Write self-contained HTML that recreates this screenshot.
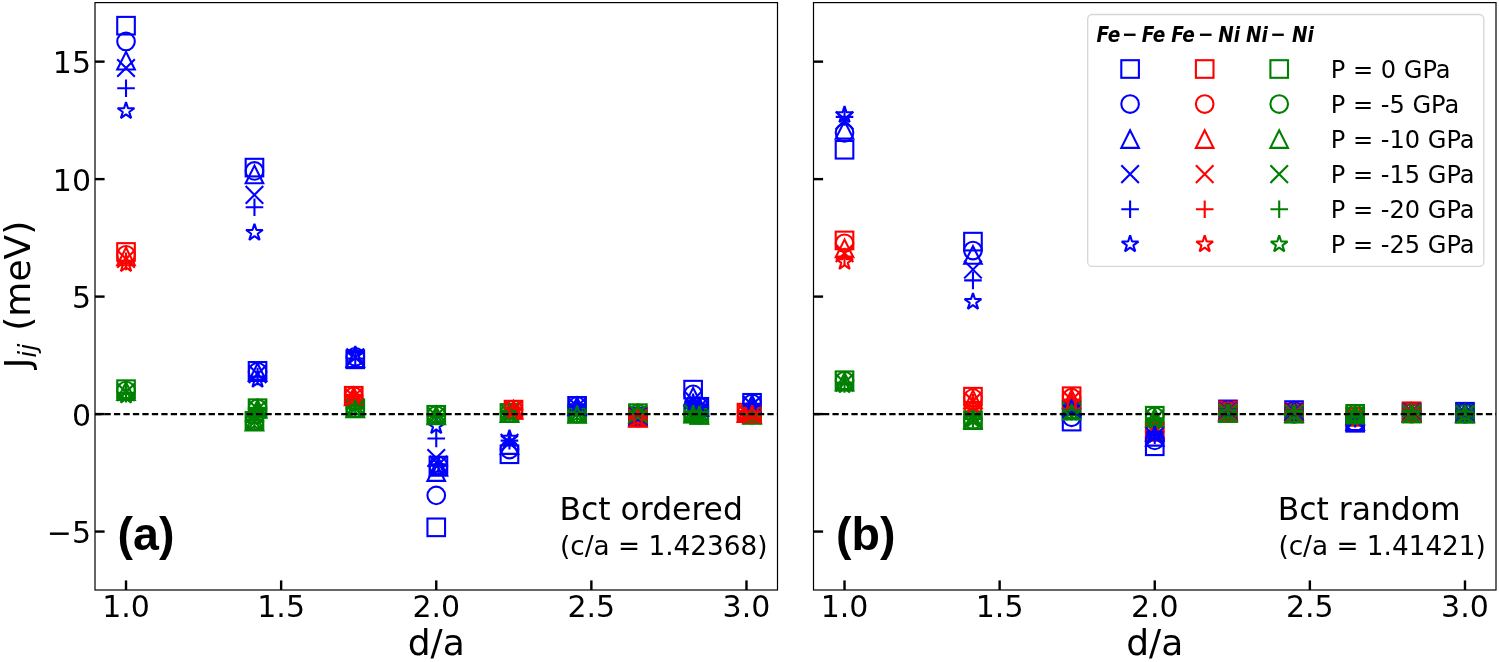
<!DOCTYPE html><html><head><meta charset="utf-8"><title>Jij vs d/a</title><style>html,body{margin:0;padding:0;background:#fff;}svg{display:block;}text{font-family:"DejaVu Sans","Liberation Sans",sans-serif;}</style></head><body>
<svg width="1499" height="662" viewBox="0 0 1499 662">
<rect width="1499" height="662" fill="#fff"/>
<rect x="117.22" y="16.89" width="17.6" height="17.6" fill="none" stroke="#0000ff" stroke-width="2.1" stroke-linejoin="miter"/>
<rect x="117.22" y="243.16" width="17.6" height="17.6" fill="none" stroke="#ff0000" stroke-width="2.1" stroke-linejoin="miter"/>
<rect x="117.22" y="380.37" width="17.6" height="17.6" fill="none" stroke="#008000" stroke-width="2.1" stroke-linejoin="miter"/>
<rect x="245.66" y="158.81" width="17.6" height="17.6" fill="none" stroke="#0000ff" stroke-width="2.1" stroke-linejoin="miter"/>
<rect x="248.76" y="362.05" width="17.6" height="17.6" fill="none" stroke="#0000ff" stroke-width="2.1" stroke-linejoin="miter"/>
<rect x="248.76" y="399.41" width="17.6" height="17.6" fill="none" stroke="#008000" stroke-width="2.1" stroke-linejoin="miter"/>
<rect x="245.66" y="412.09" width="17.6" height="17.6" fill="none" stroke="#008000" stroke-width="2.1" stroke-linejoin="miter"/>
<rect x="346.48" y="350.53" width="17.6" height="17.6" fill="none" stroke="#0000ff" stroke-width="2.1" stroke-linejoin="miter"/>
<rect x="344.93" y="386.95" width="17.6" height="17.6" fill="none" stroke="#ff0000" stroke-width="2.1" stroke-linejoin="miter"/>
<rect x="346.48" y="399.41" width="17.6" height="17.6" fill="none" stroke="#008000" stroke-width="2.1" stroke-linejoin="miter"/>
<rect x="427.45" y="518.53" width="17.6" height="17.6" fill="none" stroke="#0000ff" stroke-width="2.1" stroke-linejoin="miter"/>
<rect x="429.62" y="456.74" width="17.6" height="17.6" fill="none" stroke="#0000ff" stroke-width="2.1" stroke-linejoin="miter"/>
<rect x="500.66" y="445.46" width="17.6" height="17.6" fill="none" stroke="#0000ff" stroke-width="2.1" stroke-linejoin="miter"/>
<rect x="500.66" y="404.11" width="17.6" height="17.6" fill="none" stroke="#008000" stroke-width="2.1" stroke-linejoin="miter"/>
<rect x="504.7" y="400.82" width="17.6" height="17.6" fill="none" stroke="#ff0000" stroke-width="2.1" stroke-linejoin="miter"/>
<rect x="568.29" y="397.06" width="17.6" height="17.6" fill="none" stroke="#0000ff" stroke-width="2.1" stroke-linejoin="miter"/>
<rect x="568.29" y="404.58" width="17.6" height="17.6" fill="none" stroke="#008000" stroke-width="2.1" stroke-linejoin="miter"/>
<rect x="629.1" y="407.63" width="17.6" height="17.6" fill="none" stroke="#0000ff" stroke-width="2.1" stroke-linejoin="miter"/>
<rect x="629.1" y="404.34" width="17.6" height="17.6" fill="none" stroke="#008000" stroke-width="2.1" stroke-linejoin="miter"/>
<rect x="629.1" y="408.57" width="17.6" height="17.6" fill="none" stroke="#ff0000" stroke-width="2.1" stroke-linejoin="miter"/>
<rect x="684.32" y="380.84" width="17.6" height="17.6" fill="none" stroke="#0000ff" stroke-width="2.1" stroke-linejoin="miter"/>
<rect x="690.52" y="398" width="17.6" height="17.6" fill="none" stroke="#0000ff" stroke-width="2.1" stroke-linejoin="miter"/>
<rect x="684.32" y="404.58" width="17.6" height="17.6" fill="none" stroke="#008000" stroke-width="2.1" stroke-linejoin="miter"/>
<rect x="690.52" y="405.98" width="17.6" height="17.6" fill="none" stroke="#008000" stroke-width="2.1" stroke-linejoin="miter"/>
<rect x="737.68" y="403.87" width="17.6" height="17.6" fill="none" stroke="#ff0000" stroke-width="2.1" stroke-linejoin="miter"/>
<rect x="743.26" y="394" width="17.6" height="17.6" fill="none" stroke="#0000ff" stroke-width="2.1" stroke-linejoin="miter"/>
<rect x="743.26" y="405.51" width="17.6" height="17.6" fill="none" stroke="#008000" stroke-width="2.1" stroke-linejoin="miter"/>
<rect x="743.26" y="405.28" width="17.6" height="17.6" fill="none" stroke="#ff0000" stroke-width="2.1" stroke-linejoin="miter"/>
<circle cx="126.02" cy="41.43" r="8.8" fill="none" stroke="#0000ff" stroke-width="2.1"/>
<circle cx="126.02" cy="254.78" r="8.8" fill="none" stroke="#ff0000" stroke-width="2.1"/>
<circle cx="126.02" cy="390.58" r="8.8" fill="none" stroke="#008000" stroke-width="2.1"/>
<circle cx="254.46" cy="170.9" r="8.8" fill="none" stroke="#0000ff" stroke-width="2.1"/>
<circle cx="257.56" cy="371.79" r="8.8" fill="none" stroke="#0000ff" stroke-width="2.1"/>
<circle cx="257.56" cy="408.44" r="8.8" fill="none" stroke="#008000" stroke-width="2.1"/>
<circle cx="254.46" cy="421.13" r="8.8" fill="none" stroke="#008000" stroke-width="2.1"/>
<circle cx="355.28" cy="356.75" r="8.8" fill="none" stroke="#0000ff" stroke-width="2.1"/>
<circle cx="353.73" cy="396.22" r="8.8" fill="none" stroke="#ff0000" stroke-width="2.1"/>
<circle cx="355.28" cy="408.21" r="8.8" fill="none" stroke="#008000" stroke-width="2.1"/>
<circle cx="436.25" cy="495.38" r="8.8" fill="none" stroke="#0000ff" stroke-width="2.1"/>
<circle cx="438.42" cy="465.77" r="8.8" fill="none" stroke="#0000ff" stroke-width="2.1"/>
<circle cx="509.46" cy="449.56" r="8.8" fill="none" stroke="#0000ff" stroke-width="2.1"/>
<circle cx="509.46" cy="412.91" r="8.8" fill="none" stroke="#008000" stroke-width="2.1"/>
<circle cx="513.5" cy="409.62" r="8.8" fill="none" stroke="#ff0000" stroke-width="2.1"/>
<circle cx="577.09" cy="406.09" r="8.8" fill="none" stroke="#0000ff" stroke-width="2.1"/>
<circle cx="577.09" cy="413.61" r="8.8" fill="none" stroke="#008000" stroke-width="2.1"/>
<circle cx="637.9" cy="416.43" r="8.8" fill="none" stroke="#0000ff" stroke-width="2.1"/>
<circle cx="637.9" cy="413.38" r="8.8" fill="none" stroke="#008000" stroke-width="2.1"/>
<circle cx="637.9" cy="417.6" r="8.8" fill="none" stroke="#ff0000" stroke-width="2.1"/>
<circle cx="693.12" cy="394.34" r="8.8" fill="none" stroke="#0000ff" stroke-width="2.1"/>
<circle cx="699.32" cy="406.8" r="8.8" fill="none" stroke="#0000ff" stroke-width="2.1"/>
<circle cx="693.12" cy="413.38" r="8.8" fill="none" stroke="#008000" stroke-width="2.1"/>
<circle cx="699.32" cy="414.78" r="8.8" fill="none" stroke="#008000" stroke-width="2.1"/>
<circle cx="746.48" cy="412.91" r="8.8" fill="none" stroke="#ff0000" stroke-width="2.1"/>
<circle cx="752.06" cy="403.51" r="8.8" fill="none" stroke="#0000ff" stroke-width="2.1"/>
<circle cx="752.06" cy="414.55" r="8.8" fill="none" stroke="#008000" stroke-width="2.1"/>
<circle cx="752.06" cy="414.08" r="8.8" fill="none" stroke="#ff0000" stroke-width="2.1"/>
<polygon points="126.02,51.9 117.22,69.5 134.82,69.5" fill="none" stroke="#0000ff" stroke-width="2.1" stroke-linejoin="miter" stroke-miterlimit="10"/>
<polygon points="126.02,247.62 117.22,265.22 134.82,265.22" fill="none" stroke="#ff0000" stroke-width="2.1" stroke-linejoin="miter" stroke-miterlimit="10"/>
<polygon points="126.02,382.25 117.22,399.85 134.82,399.85" fill="none" stroke="#008000" stroke-width="2.1" stroke-linejoin="miter" stroke-miterlimit="10"/>
<polygon points="254.46,165.62 245.66,183.22 263.26,183.22" fill="none" stroke="#0000ff" stroke-width="2.1" stroke-linejoin="miter" stroke-miterlimit="10"/>
<polygon points="257.56,363.46 248.76,381.06 266.36,381.06" fill="none" stroke="#0000ff" stroke-width="2.1" stroke-linejoin="miter" stroke-miterlimit="10"/>
<polygon points="257.56,400.11 248.76,417.71 266.36,417.71" fill="none" stroke="#008000" stroke-width="2.1" stroke-linejoin="miter" stroke-miterlimit="10"/>
<polygon points="254.46,412.8 245.66,430.4 263.26,430.4" fill="none" stroke="#008000" stroke-width="2.1" stroke-linejoin="miter" stroke-miterlimit="10"/>
<polygon points="355.28,349.36 346.48,366.96 364.08,366.96" fill="none" stroke="#0000ff" stroke-width="2.1" stroke-linejoin="miter" stroke-miterlimit="10"/>
<polygon points="353.73,387.66 344.93,405.26 362.53,405.26" fill="none" stroke="#ff0000" stroke-width="2.1" stroke-linejoin="miter" stroke-miterlimit="10"/>
<polygon points="355.28,399.64 346.48,417.24 364.08,417.24" fill="none" stroke="#008000" stroke-width="2.1" stroke-linejoin="miter" stroke-miterlimit="10"/>
<polygon points="436.25,463.32 427.45,480.92 445.05,480.92" fill="none" stroke="#0000ff" stroke-width="2.1" stroke-linejoin="miter" stroke-miterlimit="10"/>
<polygon points="438.42,458.15 429.62,475.75 447.22,475.75" fill="none" stroke="#0000ff" stroke-width="2.1" stroke-linejoin="miter" stroke-miterlimit="10"/>
<polygon points="509.46,436.29 500.66,453.89 518.26,453.89" fill="none" stroke="#0000ff" stroke-width="2.1" stroke-linejoin="miter" stroke-miterlimit="10"/>
<polygon points="509.46,404.34 500.66,421.94 518.26,421.94" fill="none" stroke="#008000" stroke-width="2.1" stroke-linejoin="miter" stroke-miterlimit="10"/>
<polygon points="513.5,401.05 504.7,418.65 522.3,418.65" fill="none" stroke="#ff0000" stroke-width="2.1" stroke-linejoin="miter" stroke-miterlimit="10"/>
<polygon points="577.09,397.53 568.29,415.13 585.89,415.13" fill="none" stroke="#0000ff" stroke-width="2.1" stroke-linejoin="miter" stroke-miterlimit="10"/>
<polygon points="577.09,405.05 568.29,422.65 585.89,422.65" fill="none" stroke="#008000" stroke-width="2.1" stroke-linejoin="miter" stroke-miterlimit="10"/>
<polygon points="637.9,407.63 629.1,425.23 646.7,425.23" fill="none" stroke="#0000ff" stroke-width="2.1" stroke-linejoin="miter" stroke-miterlimit="10"/>
<polygon points="637.9,404.81 629.1,422.41 646.7,422.41" fill="none" stroke="#008000" stroke-width="2.1" stroke-linejoin="miter" stroke-miterlimit="10"/>
<polygon points="637.9,409.04 629.1,426.64 646.7,426.64" fill="none" stroke="#ff0000" stroke-width="2.1" stroke-linejoin="miter" stroke-miterlimit="10"/>
<polygon points="693.12,387.89 684.32,405.49 701.92,405.49" fill="none" stroke="#0000ff" stroke-width="2.1" stroke-linejoin="miter" stroke-miterlimit="10"/>
<polygon points="699.32,398 690.52,415.6 708.12,415.6" fill="none" stroke="#0000ff" stroke-width="2.1" stroke-linejoin="miter" stroke-miterlimit="10"/>
<polygon points="693.12,404.81 684.32,422.41 701.92,422.41" fill="none" stroke="#008000" stroke-width="2.1" stroke-linejoin="miter" stroke-miterlimit="10"/>
<polygon points="699.32,405.98 690.52,423.58 708.12,423.58" fill="none" stroke="#008000" stroke-width="2.1" stroke-linejoin="miter" stroke-miterlimit="10"/>
<polygon points="746.48,404.34 737.68,421.94 755.28,421.94" fill="none" stroke="#ff0000" stroke-width="2.1" stroke-linejoin="miter" stroke-miterlimit="10"/>
<polygon points="752.06,395.41 743.26,413.01 760.86,413.01" fill="none" stroke="#0000ff" stroke-width="2.1" stroke-linejoin="miter" stroke-miterlimit="10"/>
<polygon points="752.06,405.98 743.26,423.58 760.86,423.58" fill="none" stroke="#008000" stroke-width="2.1" stroke-linejoin="miter" stroke-miterlimit="10"/>
<polygon points="752.06,405.28 743.26,422.88 760.86,422.88" fill="none" stroke="#ff0000" stroke-width="2.1" stroke-linejoin="miter" stroke-miterlimit="10"/>
<path d="M117.22 59.18L134.82 76.78M117.22 76.78L134.82 59.18" fill="none" stroke="#0000ff" stroke-width="2.1"/>
<path d="M117.22 250.21L134.82 267.81M117.22 267.81L134.82 250.21" fill="none" stroke="#ff0000" stroke-width="2.1"/>
<path d="M117.22 383.43L134.82 401.03M117.22 401.03L134.82 383.43" fill="none" stroke="#008000" stroke-width="2.1"/>
<path d="M245.66 186.06L263.26 203.66M245.66 203.66L263.26 186.06" fill="none" stroke="#0000ff" stroke-width="2.1"/>
<path d="M248.76 365.34L266.36 382.94M248.76 382.94L266.36 365.34" fill="none" stroke="#0000ff" stroke-width="2.1"/>
<path d="M248.76 400.58L266.36 418.18M248.76 418.18L266.36 400.58" fill="none" stroke="#008000" stroke-width="2.1"/>
<path d="M245.66 413.03L263.26 430.63M245.66 430.63L263.26 413.03" fill="none" stroke="#008000" stroke-width="2.1"/>
<path d="M346.48 348.42L364.08 366.02M346.48 366.02L364.08 348.42" fill="none" stroke="#0000ff" stroke-width="2.1"/>
<path d="M344.93 387.89L362.53 405.49M344.93 405.49L362.53 387.89" fill="none" stroke="#ff0000" stroke-width="2.1"/>
<path d="M346.48 399.64L364.08 417.24M346.48 417.24L364.08 399.64" fill="none" stroke="#008000" stroke-width="2.1"/>
<path d="M427.45 449.22L445.05 466.82M427.45 466.82L445.05 449.22" fill="none" stroke="#0000ff" stroke-width="2.1"/>
<path d="M429.62 455.8L447.22 473.4M429.62 473.4L447.22 455.8" fill="none" stroke="#0000ff" stroke-width="2.1"/>
<path d="M500.66 433.95L518.26 451.55M500.66 451.55L518.26 433.95" fill="none" stroke="#0000ff" stroke-width="2.1"/>
<path d="M500.66 404.34L518.26 421.94M500.66 421.94L518.26 404.34" fill="none" stroke="#008000" stroke-width="2.1"/>
<path d="M504.7 401.05L522.3 418.65M504.7 418.65L522.3 401.05" fill="none" stroke="#ff0000" stroke-width="2.1"/>
<path d="M568.29 397.76L585.89 415.36M568.29 415.36L585.89 397.76" fill="none" stroke="#0000ff" stroke-width="2.1"/>
<path d="M568.29 405.28L585.89 422.88M568.29 422.88L585.89 405.28" fill="none" stroke="#008000" stroke-width="2.1"/>
<path d="M629.1 407.63L646.7 425.23M629.1 425.23L646.7 407.63" fill="none" stroke="#0000ff" stroke-width="2.1"/>
<path d="M629.1 405.05L646.7 422.65M629.1 422.65L646.7 405.05" fill="none" stroke="#008000" stroke-width="2.1"/>
<path d="M629.1 409.27L646.7 426.87M629.1 426.87L646.7 409.27" fill="none" stroke="#ff0000" stroke-width="2.1"/>
<path d="M684.32 391.18L701.92 408.78M684.32 408.78L701.92 391.18" fill="none" stroke="#0000ff" stroke-width="2.1"/>
<path d="M690.52 398.23L708.12 415.83M690.52 415.83L708.12 398.23" fill="none" stroke="#0000ff" stroke-width="2.1"/>
<path d="M684.32 404.81L701.92 422.41M684.32 422.41L701.92 404.81" fill="none" stroke="#008000" stroke-width="2.1"/>
<path d="M690.52 405.98L708.12 423.58M690.52 423.58L708.12 405.98" fill="none" stroke="#008000" stroke-width="2.1"/>
<path d="M737.68 404.58L755.28 422.18M737.68 422.18L755.28 404.58" fill="none" stroke="#ff0000" stroke-width="2.1"/>
<path d="M743.26 396.35L760.86 413.95M743.26 413.95L760.86 396.35" fill="none" stroke="#0000ff" stroke-width="2.1"/>
<path d="M743.26 406.22L760.86 423.82M743.26 423.82L760.86 406.22" fill="none" stroke="#008000" stroke-width="2.1"/>
<path d="M743.26 405.28L760.86 422.88M743.26 422.88L760.86 405.28" fill="none" stroke="#ff0000" stroke-width="2.1"/>
<path d="M117.22 88.19L134.82 88.19M126.02 79.39L126.02 96.99" fill="none" stroke="#0000ff" stroke-width="2.1"/>
<path d="M117.22 261.36L134.82 261.36M126.02 252.56L126.02 270.16" fill="none" stroke="#ff0000" stroke-width="2.1"/>
<path d="M117.22 393.64L134.82 393.64M126.02 384.84L126.02 402.44" fill="none" stroke="#008000" stroke-width="2.1"/>
<path d="M245.66 207.32L263.26 207.32M254.46 198.52L254.46 216.12" fill="none" stroke="#0000ff" stroke-width="2.1"/>
<path d="M248.76 376.49L266.36 376.49M257.56 367.69L257.56 385.29" fill="none" stroke="#0000ff" stroke-width="2.1"/>
<path d="M248.76 409.85L266.36 409.85M257.56 401.05L257.56 418.65" fill="none" stroke="#008000" stroke-width="2.1"/>
<path d="M245.66 422.3L263.26 422.3M254.46 413.5L254.46 431.1" fill="none" stroke="#008000" stroke-width="2.1"/>
<path d="M346.48 358.63L364.08 358.63M355.28 349.83L355.28 367.43" fill="none" stroke="#0000ff" stroke-width="2.1"/>
<path d="M344.93 397.16L362.53 397.16M353.73 388.36L353.73 405.96" fill="none" stroke="#ff0000" stroke-width="2.1"/>
<path d="M346.48 408.68L364.08 408.68M355.28 399.88L355.28 417.48" fill="none" stroke="#008000" stroke-width="2.1"/>
<path d="M427.45 438.52L445.05 438.52M436.25 429.72L436.25 447.32" fill="none" stroke="#0000ff" stroke-width="2.1"/>
<path d="M429.62 465.77L447.22 465.77M438.42 456.97L438.42 474.57" fill="none" stroke="#0000ff" stroke-width="2.1"/>
<path d="M500.66 440.63L518.26 440.63M509.46 431.83L509.46 449.43" fill="none" stroke="#0000ff" stroke-width="2.1"/>
<path d="M500.66 413.38L518.26 413.38M509.46 404.58L509.46 422.18" fill="none" stroke="#008000" stroke-width="2.1"/>
<path d="M504.7 410.09L522.3 410.09M513.5 401.29L513.5 418.89" fill="none" stroke="#ff0000" stroke-width="2.1"/>
<path d="M568.29 406.8L585.89 406.8M577.09 398L577.09 415.6" fill="none" stroke="#0000ff" stroke-width="2.1"/>
<path d="M568.29 414.31L585.89 414.31M577.09 405.51L577.09 423.11" fill="none" stroke="#008000" stroke-width="2.1"/>
<path d="M629.1 416.43L646.7 416.43M637.9 407.63L637.9 425.23" fill="none" stroke="#0000ff" stroke-width="2.1"/>
<path d="M629.1 414.08L646.7 414.08M637.9 405.28L637.9 422.88" fill="none" stroke="#008000" stroke-width="2.1"/>
<path d="M629.1 418.31L646.7 418.31M637.9 409.51L637.9 427.11" fill="none" stroke="#ff0000" stroke-width="2.1"/>
<path d="M684.32 402.33L701.92 402.33M693.12 393.53L693.12 411.13" fill="none" stroke="#0000ff" stroke-width="2.1"/>
<path d="M690.52 407.03L708.12 407.03M699.32 398.23L699.32 415.83" fill="none" stroke="#0000ff" stroke-width="2.1"/>
<path d="M684.32 413.85L701.92 413.85M693.12 405.05L693.12 422.65" fill="none" stroke="#008000" stroke-width="2.1"/>
<path d="M690.52 414.78L708.12 414.78M699.32 405.98L699.32 423.58" fill="none" stroke="#008000" stroke-width="2.1"/>
<path d="M737.68 413.61L755.28 413.61M746.48 404.81L746.48 422.41" fill="none" stroke="#ff0000" stroke-width="2.1"/>
<path d="M743.26 405.86L760.86 405.86M752.06 397.06L752.06 414.66" fill="none" stroke="#0000ff" stroke-width="2.1"/>
<path d="M743.26 415.25L760.86 415.25M752.06 406.45L752.06 424.05" fill="none" stroke="#008000" stroke-width="2.1"/>
<path d="M743.26 414.08L760.86 414.08M752.06 405.28L752.06 422.88" fill="none" stroke="#ff0000" stroke-width="2.1"/>
<polygon points="126.02,102.18 128,108.26 134.39,108.26 129.22,112.02 131.2,118.1 126.02,114.34 120.85,118.1 122.83,112.02 117.65,108.26 124.05,108.26" fill="none" stroke="#0000ff" stroke-width="2.1" stroke-linejoin="bevel"/>
<polygon points="126.02,255.14 128,261.22 134.39,261.22 129.22,264.98 131.2,271.06 126.02,267.3 120.85,271.06 122.83,264.98 117.65,261.22 124.05,261.22" fill="none" stroke="#ff0000" stroke-width="2.1" stroke-linejoin="bevel"/>
<polygon points="126.02,386.72 128,392.8 134.39,392.8 129.22,396.56 131.2,402.64 126.02,398.88 120.85,402.64 122.83,396.56 117.65,392.8 124.05,392.8" fill="none" stroke="#008000" stroke-width="2.1" stroke-linejoin="bevel"/>
<polygon points="254.46,223.89 256.43,229.97 262.83,229.97 257.65,233.73 259.63,239.81 254.46,236.05 249.28,239.81 251.26,233.73 246.09,229.97 252.48,229.97" fill="none" stroke="#0000ff" stroke-width="2.1" stroke-linejoin="bevel"/>
<polygon points="257.56,370.98 259.53,377.06 265.93,377.06 260.76,380.81 262.73,386.9 257.56,383.14 252.39,386.9 254.36,380.81 249.19,377.06 255.58,377.06" fill="none" stroke="#0000ff" stroke-width="2.1" stroke-linejoin="bevel"/>
<polygon points="257.56,401.76 259.53,407.84 265.93,407.84 260.76,411.59 262.73,417.67 257.56,413.92 252.39,417.67 254.36,411.59 249.19,407.84 255.58,407.84" fill="none" stroke="#008000" stroke-width="2.1" stroke-linejoin="bevel"/>
<polygon points="254.46,413.97 256.43,420.05 262.83,420.05 257.65,423.81 259.63,429.89 254.46,426.13 249.28,429.89 251.26,423.81 246.09,420.05 252.48,420.05" fill="none" stroke="#008000" stroke-width="2.1" stroke-linejoin="bevel"/>
<polygon points="355.28,346.07 357.26,352.15 363.65,352.15 358.48,355.91 360.45,361.99 355.28,358.23 350.11,361.99 352.08,355.91 346.91,352.15 353.3,352.15" fill="none" stroke="#0000ff" stroke-width="2.1" stroke-linejoin="bevel"/>
<polygon points="353.73,388.6 355.71,394.68 362.1,394.68 356.93,398.44 358.9,404.52 353.73,400.76 348.56,404.52 350.53,398.44 345.36,394.68 351.75,394.68" fill="none" stroke="#ff0000" stroke-width="2.1" stroke-linejoin="bevel"/>
<polygon points="355.28,400.11 357.26,406.19 363.65,406.19 358.48,409.95 360.45,416.03 355.28,412.27 350.11,416.03 352.08,409.95 346.91,406.19 353.3,406.19" fill="none" stroke="#008000" stroke-width="2.1" stroke-linejoin="bevel"/>
<polygon points="436.25,417.26 438.23,423.34 444.62,423.34 439.45,427.1 441.42,433.18 436.25,429.42 431.08,433.18 433.05,427.1 427.88,423.34 434.27,423.34" fill="none" stroke="#0000ff" stroke-width="2.1" stroke-linejoin="bevel"/>
<polygon points="438.42,458.15 440.4,464.23 446.79,464.23 441.62,467.98 443.59,474.07 438.42,470.31 433.25,474.07 435.22,467.98 430.05,464.23 436.45,464.23" fill="none" stroke="#0000ff" stroke-width="2.1" stroke-linejoin="bevel"/>
<polygon points="509.46,429.72 511.44,435.8 517.83,435.8 512.66,439.55 514.64,445.64 509.46,441.88 504.29,445.64 506.27,439.55 501.09,435.8 507.49,435.8" fill="none" stroke="#0000ff" stroke-width="2.1" stroke-linejoin="bevel"/>
<polygon points="509.46,404.81 511.44,410.89 517.83,410.89 512.66,414.65 514.64,420.73 509.46,416.97 504.29,420.73 506.27,414.65 501.09,410.89 507.49,410.89" fill="none" stroke="#008000" stroke-width="2.1" stroke-linejoin="bevel"/>
<polygon points="513.5,401.52 515.47,407.6 521.87,407.6 516.69,411.36 518.67,417.44 513.5,413.68 508.32,417.44 510.3,411.36 505.13,407.6 511.52,407.6" fill="none" stroke="#ff0000" stroke-width="2.1" stroke-linejoin="bevel"/>
<polygon points="577.09,398.23 579.07,404.31 585.46,404.31 580.29,408.07 582.27,414.15 577.09,410.39 571.92,414.15 573.9,408.07 568.72,404.31 575.12,404.31" fill="none" stroke="#0000ff" stroke-width="2.1" stroke-linejoin="bevel"/>
<polygon points="577.09,405.75 579.07,411.83 585.46,411.83 580.29,415.59 582.27,421.67 577.09,417.91 571.92,421.67 573.9,415.59 568.72,411.83 575.12,411.83" fill="none" stroke="#008000" stroke-width="2.1" stroke-linejoin="bevel"/>
<polygon points="637.9,407.63 639.87,413.71 646.27,413.71 641.09,417.47 643.07,423.55 637.9,419.79 632.73,423.55 634.7,417.47 629.53,413.71 635.92,413.71" fill="none" stroke="#0000ff" stroke-width="2.1" stroke-linejoin="bevel"/>
<polygon points="637.9,405.51 639.87,411.6 646.27,411.6 641.09,415.35 643.07,421.43 637.9,417.68 632.73,421.43 634.7,415.35 629.53,411.6 635.92,411.6" fill="none" stroke="#008000" stroke-width="2.1" stroke-linejoin="bevel"/>
<polygon points="637.9,409.74 639.87,415.82 646.27,415.82 641.09,419.58 643.07,425.66 637.9,421.91 632.73,425.66 634.7,419.58 629.53,415.82 635.92,415.82" fill="none" stroke="#ff0000" stroke-width="2.1" stroke-linejoin="bevel"/>
<polygon points="693.12,394.71 695.09,400.79 701.49,400.79 696.31,404.55 698.29,410.63 693.12,406.87 687.95,410.63 689.92,404.55 684.75,400.79 691.14,400.79" fill="none" stroke="#0000ff" stroke-width="2.1" stroke-linejoin="bevel"/>
<polygon points="699.32,398.23 701.3,404.31 707.69,404.31 702.52,408.07 704.5,414.15 699.32,410.39 694.15,414.15 696.13,408.07 690.95,404.31 697.35,404.31" fill="none" stroke="#0000ff" stroke-width="2.1" stroke-linejoin="bevel"/>
<polygon points="693.12,405.28 695.09,411.36 701.49,411.36 696.31,415.12 698.29,421.2 693.12,417.44 687.95,421.2 689.92,415.12 684.75,411.36 691.14,411.36" fill="none" stroke="#008000" stroke-width="2.1" stroke-linejoin="bevel"/>
<polygon points="699.32,405.98 701.3,412.07 707.69,412.07 702.52,415.82 704.5,421.9 699.32,418.15 694.15,421.9 696.13,415.82 690.95,412.07 697.35,412.07" fill="none" stroke="#008000" stroke-width="2.1" stroke-linejoin="bevel"/>
<polygon points="746.48,405.05 748.45,411.13 754.85,411.13 749.67,414.88 751.65,420.96 746.48,417.21 741.3,420.96 743.28,414.88 738.11,411.13 744.5,411.13" fill="none" stroke="#ff0000" stroke-width="2.1" stroke-linejoin="bevel"/>
<polygon points="752.06,397.76 754.04,403.84 760.43,403.84 755.26,407.6 757.23,413.68 752.06,409.92 746.89,413.68 748.86,407.6 743.69,403.84 750.09,403.84" fill="none" stroke="#0000ff" stroke-width="2.1" stroke-linejoin="bevel"/>
<polygon points="752.06,406.92 754.04,413.01 760.43,413.01 755.26,416.76 757.23,422.84 752.06,419.09 746.89,422.84 748.86,416.76 743.69,413.01 750.09,413.01" fill="none" stroke="#008000" stroke-width="2.1" stroke-linejoin="bevel"/>
<polygon points="752.06,405.28 754.04,411.36 760.43,411.36 755.26,415.12 757.23,421.2 752.06,417.44 746.89,421.2 748.86,415.12 743.69,411.36 750.09,411.36" fill="none" stroke="#ff0000" stroke-width="2.1" stroke-linejoin="bevel"/>
<rect x="427.45" y="405.98" width="17.6" height="17.6" fill="none" stroke="#008000" stroke-width="2.1" stroke-linejoin="miter"/>
<circle cx="436.25" cy="415.25" r="8.8" fill="none" stroke="#008000" stroke-width="2.1"/>
<polygon points="436.25,406.69 427.45,424.29 445.05,424.29" fill="none" stroke="#008000" stroke-width="2.1" stroke-linejoin="miter" stroke-miterlimit="10"/>
<path d="M427.45 406.92L445.05 424.52M427.45 424.52L445.05 406.92" fill="none" stroke="#008000" stroke-width="2.1"/>
<path d="M427.45 415.96L445.05 415.96M436.25 407.16L436.25 424.76" fill="none" stroke="#008000" stroke-width="2.1"/>
<polygon points="436.25,407.63 438.23,413.71 444.62,413.71 439.45,417.47 441.42,423.55 436.25,419.79 431.08,423.55 433.05,417.47 427.88,413.71 434.27,413.71" fill="none" stroke="#008000" stroke-width="2.1" stroke-linejoin="bevel"/>
<line x1="95" y1="414.08" x2="777.5" y2="414.08" stroke="#000" stroke-width="2.1" stroke-dasharray="6.3 3.17"/>
<line x1="95" y1="531.56" x2="104.6" y2="531.56" stroke="#000" stroke-width="2.4"/>
<line x1="95" y1="414.08" x2="104.6" y2="414.08" stroke="#000" stroke-width="2.4"/>
<line x1="95" y1="296.6" x2="104.6" y2="296.6" stroke="#000" stroke-width="2.4"/>
<line x1="95" y1="179.12" x2="104.6" y2="179.12" stroke="#000" stroke-width="2.4"/>
<line x1="95" y1="61.64" x2="104.6" y2="61.64" stroke="#000" stroke-width="2.4"/>
<line x1="126.02" y1="590" x2="126.02" y2="580.4" stroke="#000" stroke-width="2.4"/>
<text x="126.02" y="616.7" font-size="30" text-anchor="middle">1.0</text>
<line x1="281.14" y1="590" x2="281.14" y2="580.4" stroke="#000" stroke-width="2.4"/>
<text x="281.14" y="616.7" font-size="30" text-anchor="middle">1.5</text>
<line x1="436.25" y1="590" x2="436.25" y2="580.4" stroke="#000" stroke-width="2.4"/>
<text x="436.25" y="616.7" font-size="30" text-anchor="middle">2.0</text>
<line x1="591.36" y1="590" x2="591.36" y2="580.4" stroke="#000" stroke-width="2.4"/>
<text x="591.36" y="616.7" font-size="30" text-anchor="middle">2.5</text>
<line x1="746.48" y1="590" x2="746.48" y2="580.4" stroke="#000" stroke-width="2.4"/>
<text x="746.48" y="616.7" font-size="30" text-anchor="middle">3.0</text>
<rect x="95" y="2.6" width="682.5" height="587.4" fill="none" stroke="#000" stroke-width="1.2"/>
<text x="436.25" y="655.2" font-size="36" text-anchor="middle">d/a</text>
<rect x="835.72" y="140.95" width="17.6" height="17.6" fill="none" stroke="#0000ff" stroke-width="2.1" stroke-linejoin="miter"/>
<rect x="835.72" y="231.64" width="17.6" height="17.6" fill="none" stroke="#ff0000" stroke-width="2.1" stroke-linejoin="miter"/>
<rect x="835.72" y="371.45" width="17.6" height="17.6" fill="none" stroke="#008000" stroke-width="2.1" stroke-linejoin="miter"/>
<rect x="964.16" y="232.82" width="17.6" height="17.6" fill="none" stroke="#0000ff" stroke-width="2.1" stroke-linejoin="miter"/>
<rect x="964.16" y="411.39" width="17.6" height="17.6" fill="none" stroke="#008000" stroke-width="2.1" stroke-linejoin="miter"/>
<rect x="964.16" y="387.89" width="17.6" height="17.6" fill="none" stroke="#ff0000" stroke-width="2.1" stroke-linejoin="miter"/>
<rect x="1062.81" y="412.8" width="17.6" height="17.6" fill="none" stroke="#0000ff" stroke-width="2.1" stroke-linejoin="miter"/>
<rect x="1062.81" y="387.42" width="17.6" height="17.6" fill="none" stroke="#ff0000" stroke-width="2.1" stroke-linejoin="miter"/>
<rect x="1062.81" y="400.58" width="17.6" height="17.6" fill="none" stroke="#008000" stroke-width="2.1" stroke-linejoin="miter"/>
<rect x="1145.95" y="422.2" width="17.6" height="17.6" fill="none" stroke="#ff0000" stroke-width="2.1" stroke-linejoin="miter"/>
<rect x="1145.95" y="406.92" width="17.6" height="17.6" fill="none" stroke="#008000" stroke-width="2.1" stroke-linejoin="miter"/>
<rect x="1219.16" y="400.58" width="17.6" height="17.6" fill="none" stroke="#0000ff" stroke-width="2.1" stroke-linejoin="miter"/>
<rect x="1219.16" y="401.76" width="17.6" height="17.6" fill="none" stroke="#ff0000" stroke-width="2.1" stroke-linejoin="miter"/>
<rect x="1219.16" y="404.11" width="17.6" height="17.6" fill="none" stroke="#008000" stroke-width="2.1" stroke-linejoin="miter"/>
<rect x="1285.24" y="401.29" width="17.6" height="17.6" fill="none" stroke="#0000ff" stroke-width="2.1" stroke-linejoin="miter"/>
<rect x="1285.24" y="403.4" width="17.6" height="17.6" fill="none" stroke="#ff0000" stroke-width="2.1" stroke-linejoin="miter"/>
<rect x="1285.24" y="404.81" width="17.6" height="17.6" fill="none" stroke="#008000" stroke-width="2.1" stroke-linejoin="miter"/>
<rect x="1346.36" y="408.1" width="17.6" height="17.6" fill="none" stroke="#ff0000" stroke-width="2.1" stroke-linejoin="miter"/>
<rect x="1402.82" y="403.4" width="17.6" height="17.6" fill="none" stroke="#0000ff" stroke-width="2.1" stroke-linejoin="miter"/>
<rect x="1402.82" y="402.46" width="17.6" height="17.6" fill="none" stroke="#ff0000" stroke-width="2.1" stroke-linejoin="miter"/>
<rect x="1402.82" y="404.58" width="17.6" height="17.6" fill="none" stroke="#008000" stroke-width="2.1" stroke-linejoin="miter"/>
<rect x="1456.18" y="403.87" width="17.6" height="17.6" fill="none" stroke="#ff0000" stroke-width="2.1" stroke-linejoin="miter"/>
<rect x="1456.18" y="402.93" width="17.6" height="17.6" fill="none" stroke="#0000ff" stroke-width="2.1" stroke-linejoin="miter"/>
<rect x="1456.18" y="404.81" width="17.6" height="17.6" fill="none" stroke="#008000" stroke-width="2.1" stroke-linejoin="miter"/>
<circle cx="844.52" cy="132.83" r="8.8" fill="none" stroke="#0000ff" stroke-width="2.1"/>
<circle cx="844.52" cy="243.26" r="8.8" fill="none" stroke="#ff0000" stroke-width="2.1"/>
<circle cx="844.52" cy="380.72" r="8.8" fill="none" stroke="#008000" stroke-width="2.1"/>
<circle cx="972.96" cy="250.55" r="8.8" fill="none" stroke="#0000ff" stroke-width="2.1"/>
<circle cx="972.96" cy="419.95" r="8.8" fill="none" stroke="#008000" stroke-width="2.1"/>
<circle cx="972.96" cy="398.1" r="8.8" fill="none" stroke="#ff0000" stroke-width="2.1"/>
<circle cx="1071.61" cy="417.37" r="8.8" fill="none" stroke="#0000ff" stroke-width="2.1"/>
<circle cx="1071.61" cy="397.63" r="8.8" fill="none" stroke="#ff0000" stroke-width="2.1"/>
<circle cx="1071.61" cy="409.85" r="8.8" fill="none" stroke="#008000" stroke-width="2.1"/>
<circle cx="1154.75" cy="431.47" r="8.8" fill="none" stroke="#ff0000" stroke-width="2.1"/>
<circle cx="1154.75" cy="416.43" r="8.8" fill="none" stroke="#008000" stroke-width="2.1"/>
<circle cx="1227.96" cy="410.09" r="8.8" fill="none" stroke="#0000ff" stroke-width="2.1"/>
<circle cx="1227.96" cy="411.03" r="8.8" fill="none" stroke="#ff0000" stroke-width="2.1"/>
<circle cx="1227.96" cy="413.14" r="8.8" fill="none" stroke="#008000" stroke-width="2.1"/>
<circle cx="1294.04" cy="410.79" r="8.8" fill="none" stroke="#0000ff" stroke-width="2.1"/>
<circle cx="1294.04" cy="412.67" r="8.8" fill="none" stroke="#ff0000" stroke-width="2.1"/>
<circle cx="1294.04" cy="413.85" r="8.8" fill="none" stroke="#008000" stroke-width="2.1"/>
<circle cx="1355.16" cy="416.43" r="8.8" fill="none" stroke="#ff0000" stroke-width="2.1"/>
<circle cx="1411.62" cy="411.73" r="8.8" fill="none" stroke="#0000ff" stroke-width="2.1"/>
<circle cx="1411.62" cy="411.97" r="8.8" fill="none" stroke="#ff0000" stroke-width="2.1"/>
<circle cx="1411.62" cy="413.61" r="8.8" fill="none" stroke="#008000" stroke-width="2.1"/>
<circle cx="1464.98" cy="412.91" r="8.8" fill="none" stroke="#ff0000" stroke-width="2.1"/>
<circle cx="1464.98" cy="412.44" r="8.8" fill="none" stroke="#0000ff" stroke-width="2.1"/>
<circle cx="1464.98" cy="413.85" r="8.8" fill="none" stroke="#008000" stroke-width="2.1"/>
<polygon points="844.52,120.98 835.72,138.58 853.32,138.58" fill="none" stroke="#0000ff" stroke-width="2.1" stroke-linejoin="miter" stroke-miterlimit="10"/>
<polygon points="844.52,239.63 835.72,257.23 853.32,257.23" fill="none" stroke="#ff0000" stroke-width="2.1" stroke-linejoin="miter" stroke-miterlimit="10"/>
<polygon points="844.52,372.86 835.72,390.46 853.32,390.46" fill="none" stroke="#008000" stroke-width="2.1" stroke-linejoin="miter" stroke-miterlimit="10"/>
<polygon points="972.96,246.21 964.16,263.81 981.76,263.81" fill="none" stroke="#0000ff" stroke-width="2.1" stroke-linejoin="miter" stroke-miterlimit="10"/>
<polygon points="972.96,410.92 964.16,428.52 981.76,428.52" fill="none" stroke="#008000" stroke-width="2.1" stroke-linejoin="miter" stroke-miterlimit="10"/>
<polygon points="972.96,390.71 964.16,408.31 981.76,408.31" fill="none" stroke="#ff0000" stroke-width="2.1" stroke-linejoin="miter" stroke-miterlimit="10"/>
<polygon points="1071.61,397.06 1062.81,414.66 1080.41,414.66" fill="none" stroke="#0000ff" stroke-width="2.1" stroke-linejoin="miter" stroke-miterlimit="10"/>
<polygon points="1071.61,390.01 1062.81,407.61 1080.41,407.61" fill="none" stroke="#ff0000" stroke-width="2.1" stroke-linejoin="miter" stroke-miterlimit="10"/>
<polygon points="1071.61,401.76 1062.81,419.36 1080.41,419.36" fill="none" stroke="#008000" stroke-width="2.1" stroke-linejoin="miter" stroke-miterlimit="10"/>
<polygon points="1154.75,423.14 1145.95,440.74 1163.55,440.74" fill="none" stroke="#ff0000" stroke-width="2.1" stroke-linejoin="miter" stroke-miterlimit="10"/>
<polygon points="1154.75,408.8 1145.95,426.4 1163.55,426.4" fill="none" stroke="#008000" stroke-width="2.1" stroke-linejoin="miter" stroke-miterlimit="10"/>
<polygon points="1227.96,401.99 1219.16,419.59 1236.76,419.59" fill="none" stroke="#0000ff" stroke-width="2.1" stroke-linejoin="miter" stroke-miterlimit="10"/>
<polygon points="1227.96,402.7 1219.16,420.3 1236.76,420.3" fill="none" stroke="#ff0000" stroke-width="2.1" stroke-linejoin="miter" stroke-miterlimit="10"/>
<polygon points="1227.96,404.11 1219.16,421.71 1236.76,421.71" fill="none" stroke="#008000" stroke-width="2.1" stroke-linejoin="miter" stroke-miterlimit="10"/>
<polygon points="1294.04,402.46 1285.24,420.06 1302.84,420.06" fill="none" stroke="#0000ff" stroke-width="2.1" stroke-linejoin="miter" stroke-miterlimit="10"/>
<polygon points="1294.04,404.11 1285.24,421.71 1302.84,421.71" fill="none" stroke="#ff0000" stroke-width="2.1" stroke-linejoin="miter" stroke-miterlimit="10"/>
<polygon points="1294.04,404.58 1285.24,422.18 1302.84,422.18" fill="none" stroke="#008000" stroke-width="2.1" stroke-linejoin="miter" stroke-miterlimit="10"/>
<polygon points="1355.16,407.16 1346.36,424.76 1363.96,424.76" fill="none" stroke="#ff0000" stroke-width="2.1" stroke-linejoin="miter" stroke-miterlimit="10"/>
<polygon points="1411.62,403.87 1402.82,421.47 1420.42,421.47" fill="none" stroke="#0000ff" stroke-width="2.1" stroke-linejoin="miter" stroke-miterlimit="10"/>
<polygon points="1411.62,403.64 1402.82,421.24 1420.42,421.24" fill="none" stroke="#ff0000" stroke-width="2.1" stroke-linejoin="miter" stroke-miterlimit="10"/>
<polygon points="1411.62,404.58 1402.82,422.18 1420.42,422.18" fill="none" stroke="#008000" stroke-width="2.1" stroke-linejoin="miter" stroke-miterlimit="10"/>
<polygon points="1464.98,404.34 1456.18,421.94 1473.78,421.94" fill="none" stroke="#ff0000" stroke-width="2.1" stroke-linejoin="miter" stroke-miterlimit="10"/>
<polygon points="1464.98,403.87 1456.18,421.47 1473.78,421.47" fill="none" stroke="#0000ff" stroke-width="2.1" stroke-linejoin="miter" stroke-miterlimit="10"/>
<polygon points="1464.98,404.81 1456.18,422.41 1473.78,422.41" fill="none" stroke="#008000" stroke-width="2.1" stroke-linejoin="miter" stroke-miterlimit="10"/>
<path d="M835.72 111.58L853.32 129.18M835.72 129.18L853.32 111.58" fill="none" stroke="#0000ff" stroke-width="2.1"/>
<path d="M835.72 244.33L853.32 261.93M835.72 261.93L853.32 244.33" fill="none" stroke="#ff0000" stroke-width="2.1"/>
<path d="M835.72 374.03L853.32 391.63M835.72 391.63L853.32 374.03" fill="none" stroke="#008000" stroke-width="2.1"/>
<path d="M964.16 260.78L981.76 278.38M964.16 278.38L981.76 260.78" fill="none" stroke="#0000ff" stroke-width="2.1"/>
<path d="M964.16 410.45L981.76 428.05M964.16 428.05L981.76 410.45" fill="none" stroke="#008000" stroke-width="2.1"/>
<path d="M964.16 392.36L981.76 409.96M964.16 409.96L981.76 392.36" fill="none" stroke="#ff0000" stroke-width="2.1"/>
<path d="M1062.81 400.58L1080.41 418.18M1062.81 418.18L1080.41 400.58" fill="none" stroke="#0000ff" stroke-width="2.1"/>
<path d="M1062.81 391.18L1080.41 408.78M1062.81 408.78L1080.41 391.18" fill="none" stroke="#ff0000" stroke-width="2.1"/>
<path d="M1062.81 402.46L1080.41 420.06M1062.81 420.06L1080.41 402.46" fill="none" stroke="#008000" stroke-width="2.1"/>
<path d="M1145.95 423.61L1163.55 441.21M1145.95 441.21L1163.55 423.61" fill="none" stroke="#ff0000" stroke-width="2.1"/>
<path d="M1145.95 409.98L1163.55 427.58M1145.95 427.58L1163.55 409.98" fill="none" stroke="#008000" stroke-width="2.1"/>
<path d="M1219.16 402.46L1236.76 420.06M1219.16 420.06L1236.76 402.46" fill="none" stroke="#0000ff" stroke-width="2.1"/>
<path d="M1219.16 403.17L1236.76 420.77M1219.16 420.77L1236.76 403.17" fill="none" stroke="#ff0000" stroke-width="2.1"/>
<path d="M1219.16 404.58L1236.76 422.18M1219.16 422.18L1236.76 404.58" fill="none" stroke="#008000" stroke-width="2.1"/>
<path d="M1285.24 402.93L1302.84 420.53M1285.24 420.53L1302.84 402.93" fill="none" stroke="#0000ff" stroke-width="2.1"/>
<path d="M1285.24 404.34L1302.84 421.94M1285.24 421.94L1302.84 404.34" fill="none" stroke="#ff0000" stroke-width="2.1"/>
<path d="M1285.24 405.28L1302.84 422.88M1285.24 422.88L1302.84 405.28" fill="none" stroke="#008000" stroke-width="2.1"/>
<path d="M1346.36 406.69L1363.96 424.29M1346.36 424.29L1363.96 406.69" fill="none" stroke="#ff0000" stroke-width="2.1"/>
<path d="M1402.82 403.17L1420.42 420.77M1402.82 420.77L1420.42 403.17" fill="none" stroke="#0000ff" stroke-width="2.1"/>
<path d="M1402.82 403.87L1420.42 421.47M1402.82 421.47L1420.42 403.87" fill="none" stroke="#ff0000" stroke-width="2.1"/>
<path d="M1402.82 405.05L1420.42 422.65M1402.82 422.65L1420.42 405.05" fill="none" stroke="#008000" stroke-width="2.1"/>
<path d="M1456.18 404.58L1473.78 422.18M1456.18 422.18L1473.78 404.58" fill="none" stroke="#ff0000" stroke-width="2.1"/>
<path d="M1456.18 404.11L1473.78 421.71M1456.18 421.71L1473.78 404.11" fill="none" stroke="#0000ff" stroke-width="2.1"/>
<path d="M1456.18 405.28L1473.78 422.88M1456.18 422.88L1473.78 405.28" fill="none" stroke="#008000" stroke-width="2.1"/>
<path d="M835.72 116.86L853.32 116.86M844.52 108.06L844.52 125.66" fill="none" stroke="#0000ff" stroke-width="2.1"/>
<path d="M835.72 256.66L853.32 256.66M844.52 247.86L844.52 265.46" fill="none" stroke="#ff0000" stroke-width="2.1"/>
<path d="M835.72 384.01L853.32 384.01M844.52 375.21L844.52 392.81" fill="none" stroke="#008000" stroke-width="2.1"/>
<path d="M964.16 280.39L981.76 280.39M972.96 271.59L972.96 289.19" fill="none" stroke="#0000ff" stroke-width="2.1"/>
<path d="M964.16 419.01L981.76 419.01M972.96 410.21L972.96 427.81" fill="none" stroke="#008000" stroke-width="2.1"/>
<path d="M964.16 402.8L981.76 402.8M972.96 394L972.96 411.6" fill="none" stroke="#ff0000" stroke-width="2.1"/>
<path d="M1062.81 410.56L1080.41 410.56M1071.61 401.76L1071.61 419.36" fill="none" stroke="#0000ff" stroke-width="2.1"/>
<path d="M1062.81 401.16L1080.41 401.16M1071.61 392.36L1071.61 409.96" fill="none" stroke="#ff0000" stroke-width="2.1"/>
<path d="M1062.81 411.73L1080.41 411.73M1071.61 402.93L1071.61 420.53" fill="none" stroke="#008000" stroke-width="2.1"/>
<path d="M1145.95 432.88L1163.55 432.88M1154.75 424.08L1154.75 441.68" fill="none" stroke="#ff0000" stroke-width="2.1"/>
<path d="M1145.95 419.95L1163.55 419.95M1154.75 411.15L1154.75 428.75" fill="none" stroke="#008000" stroke-width="2.1"/>
<path d="M1219.16 411.73L1236.76 411.73M1227.96 402.93L1227.96 420.53" fill="none" stroke="#0000ff" stroke-width="2.1"/>
<path d="M1219.16 412.44L1236.76 412.44M1227.96 403.64L1227.96 421.24" fill="none" stroke="#ff0000" stroke-width="2.1"/>
<path d="M1219.16 413.14L1236.76 413.14M1227.96 404.34L1227.96 421.94" fill="none" stroke="#008000" stroke-width="2.1"/>
<path d="M1285.24 412.2L1302.84 412.2M1294.04 403.4L1294.04 421" fill="none" stroke="#0000ff" stroke-width="2.1"/>
<path d="M1285.24 413.14L1302.84 413.14M1294.04 404.34L1294.04 421.94" fill="none" stroke="#ff0000" stroke-width="2.1"/>
<path d="M1285.24 413.85L1302.84 413.85M1294.04 405.05L1294.04 422.65" fill="none" stroke="#008000" stroke-width="2.1"/>
<path d="M1346.36 415.25L1363.96 415.25M1355.16 406.45L1355.16 424.05" fill="none" stroke="#ff0000" stroke-width="2.1"/>
<path d="M1402.82 412.91L1420.42 412.91M1411.62 404.11L1411.62 421.71" fill="none" stroke="#0000ff" stroke-width="2.1"/>
<path d="M1402.82 412.91L1420.42 412.91M1411.62 404.11L1411.62 421.71" fill="none" stroke="#ff0000" stroke-width="2.1"/>
<path d="M1402.82 413.61L1420.42 413.61M1411.62 404.81L1411.62 422.41" fill="none" stroke="#008000" stroke-width="2.1"/>
<path d="M1456.18 413.61L1473.78 413.61M1464.98 404.81L1464.98 422.41" fill="none" stroke="#ff0000" stroke-width="2.1"/>
<path d="M1456.18 413.14L1473.78 413.14M1464.98 404.34L1464.98 421.94" fill="none" stroke="#0000ff" stroke-width="2.1"/>
<path d="M1456.18 413.85L1473.78 413.85M1464.98 405.05L1464.98 422.65" fill="none" stroke="#008000" stroke-width="2.1"/>
<polygon points="844.52,106.18 846.5,112.26 852.89,112.26 847.72,116.01 849.7,122.1 844.52,118.34 839.35,122.1 841.33,116.01 836.15,112.26 842.55,112.26" fill="none" stroke="#0000ff" stroke-width="2.1" stroke-linejoin="bevel"/>
<polygon points="844.52,253.03 846.5,259.11 852.89,259.11 847.72,262.86 849.7,268.95 844.52,265.19 839.35,268.95 841.33,262.86 836.15,259.11 842.55,259.11" fill="none" stroke="#ff0000" stroke-width="2.1" stroke-linejoin="bevel"/>
<polygon points="844.52,376.38 846.5,382.46 852.89,382.46 847.72,386.22 849.7,392.3 844.52,388.54 839.35,392.3 841.33,386.22 836.15,382.46 842.55,382.46" fill="none" stroke="#008000" stroke-width="2.1" stroke-linejoin="bevel"/>
<polygon points="972.96,292.97 974.93,299.05 981.33,299.05 976.15,302.81 978.13,308.89 972.96,305.13 967.78,308.89 969.76,302.81 964.59,299.05 970.98,299.05" fill="none" stroke="#0000ff" stroke-width="2.1" stroke-linejoin="bevel"/>
<polygon points="972.96,409.98 974.93,416.06 981.33,416.06 976.15,419.82 978.13,425.9 972.96,422.14 967.78,425.9 969.76,419.82 964.59,416.06 970.98,416.06" fill="none" stroke="#008000" stroke-width="2.1" stroke-linejoin="bevel"/>
<polygon points="972.96,395.88 974.93,401.96 981.33,401.96 976.15,405.72 978.13,411.8 972.96,408.04 967.78,411.8 969.76,405.72 964.59,401.96 970.98,401.96" fill="none" stroke="#ff0000" stroke-width="2.1" stroke-linejoin="bevel"/>
<polygon points="1071.61,399.41 1073.58,405.49 1079.98,405.49 1074.81,409.24 1076.78,415.33 1071.61,411.57 1066.44,415.33 1068.41,409.24 1063.24,405.49 1069.63,405.49" fill="none" stroke="#0000ff" stroke-width="2.1" stroke-linejoin="bevel"/>
<polygon points="1071.61,393.53 1073.58,399.61 1079.98,399.61 1074.81,403.37 1076.78,409.45 1071.61,405.69 1066.44,409.45 1068.41,403.37 1063.24,399.61 1069.63,399.61" fill="none" stroke="#ff0000" stroke-width="2.1" stroke-linejoin="bevel"/>
<polygon points="1071.61,404.11 1073.58,410.19 1079.98,410.19 1074.81,413.94 1076.78,420.02 1071.61,416.27 1066.44,420.02 1068.41,413.94 1063.24,410.19 1069.63,410.19" fill="none" stroke="#008000" stroke-width="2.1" stroke-linejoin="bevel"/>
<polygon points="1154.75,424.55 1156.73,430.63 1163.12,430.63 1157.95,434.39 1159.92,440.47 1154.75,436.71 1149.58,440.47 1151.55,434.39 1146.38,430.63 1152.77,430.63" fill="none" stroke="#ff0000" stroke-width="2.1" stroke-linejoin="bevel"/>
<polygon points="1154.75,412.33 1156.73,418.41 1163.12,418.41 1157.95,422.17 1159.92,428.25 1154.75,424.49 1149.58,428.25 1151.55,422.17 1146.38,418.41 1152.77,418.41" fill="none" stroke="#008000" stroke-width="2.1" stroke-linejoin="bevel"/>
<polygon points="1227.96,403.4 1229.94,409.48 1236.33,409.48 1231.16,413.24 1233.14,419.32 1227.96,415.56 1222.79,419.32 1224.77,413.24 1219.59,409.48 1225.99,409.48" fill="none" stroke="#0000ff" stroke-width="2.1" stroke-linejoin="bevel"/>
<polygon points="1227.96,404.11 1229.94,410.19 1236.33,410.19 1231.16,413.94 1233.14,420.02 1227.96,416.27 1222.79,420.02 1224.77,413.94 1219.59,410.19 1225.99,410.19" fill="none" stroke="#ff0000" stroke-width="2.1" stroke-linejoin="bevel"/>
<polygon points="1227.96,404.11 1229.94,410.19 1236.33,410.19 1231.16,413.94 1233.14,420.02 1227.96,416.27 1222.79,420.02 1224.77,413.94 1219.59,410.19 1225.99,410.19" fill="none" stroke="#008000" stroke-width="2.1" stroke-linejoin="bevel"/>
<polygon points="1294.04,403.87 1296.02,409.95 1302.41,409.95 1297.24,413.71 1299.21,419.79 1294.04,416.03 1288.87,419.79 1290.85,413.71 1285.67,409.95 1292.07,409.95" fill="none" stroke="#0000ff" stroke-width="2.1" stroke-linejoin="bevel"/>
<polygon points="1294.04,404.58 1296.02,410.66 1302.41,410.66 1297.24,414.41 1299.21,420.49 1294.04,416.74 1288.87,420.49 1290.85,414.41 1285.67,410.66 1292.07,410.66" fill="none" stroke="#ff0000" stroke-width="2.1" stroke-linejoin="bevel"/>
<polygon points="1294.04,404.81 1296.02,410.89 1302.41,410.89 1297.24,414.65 1299.21,420.73 1294.04,416.97 1288.87,420.73 1290.85,414.65 1285.67,410.89 1292.07,410.89" fill="none" stroke="#008000" stroke-width="2.1" stroke-linejoin="bevel"/>
<polygon points="1355.16,406.22 1357.13,412.3 1363.53,412.3 1358.35,416.06 1360.33,422.14 1355.16,418.38 1349.98,422.14 1351.96,416.06 1346.79,412.3 1353.18,412.3" fill="none" stroke="#ff0000" stroke-width="2.1" stroke-linejoin="bevel"/>
<polygon points="1411.62,404.34 1413.59,410.42 1419.99,410.42 1414.81,414.18 1416.79,420.26 1411.62,416.5 1406.45,420.26 1408.42,414.18 1403.25,410.42 1409.64,410.42" fill="none" stroke="#0000ff" stroke-width="2.1" stroke-linejoin="bevel"/>
<polygon points="1411.62,404.34 1413.59,410.42 1419.99,410.42 1414.81,414.18 1416.79,420.26 1411.62,416.5 1406.45,420.26 1408.42,414.18 1403.25,410.42 1409.64,410.42" fill="none" stroke="#ff0000" stroke-width="2.1" stroke-linejoin="bevel"/>
<polygon points="1411.62,405.05 1413.59,411.13 1419.99,411.13 1414.81,414.88 1416.79,420.96 1411.62,417.21 1406.45,420.96 1408.42,414.88 1403.25,411.13 1409.64,411.13" fill="none" stroke="#008000" stroke-width="2.1" stroke-linejoin="bevel"/>
<polygon points="1464.98,405.05 1466.95,411.13 1473.35,411.13 1468.17,414.88 1470.15,420.96 1464.98,417.21 1459.8,420.96 1461.78,414.88 1456.61,411.13 1463,411.13" fill="none" stroke="#ff0000" stroke-width="2.1" stroke-linejoin="bevel"/>
<polygon points="1464.98,404.58 1466.95,410.66 1473.35,410.66 1468.17,414.41 1470.15,420.49 1464.98,416.74 1459.8,420.49 1461.78,414.41 1456.61,410.66 1463,410.66" fill="none" stroke="#0000ff" stroke-width="2.1" stroke-linejoin="bevel"/>
<polygon points="1464.98,405.28 1466.95,411.36 1473.35,411.36 1468.17,415.12 1470.15,421.2 1464.98,417.44 1459.8,421.2 1461.78,415.12 1456.61,411.36 1463,411.36" fill="none" stroke="#008000" stroke-width="2.1" stroke-linejoin="bevel"/>
<rect x="1145.95" y="437.47" width="17.6" height="17.6" fill="none" stroke="#0000ff" stroke-width="2.1" stroke-linejoin="miter"/>
<rect x="1346.36" y="413.97" width="17.6" height="17.6" fill="none" stroke="#0000ff" stroke-width="2.1" stroke-linejoin="miter"/>
<circle cx="1154.75" cy="440.4" r="8.8" fill="none" stroke="#0000ff" stroke-width="2.1"/>
<circle cx="1355.16" cy="422.3" r="8.8" fill="none" stroke="#0000ff" stroke-width="2.1"/>
<polygon points="1154.75,428.07 1145.95,445.67 1163.55,445.67" fill="none" stroke="#0000ff" stroke-width="2.1" stroke-linejoin="miter" stroke-miterlimit="10"/>
<polygon points="1355.16,412.33 1346.36,429.93 1363.96,429.93" fill="none" stroke="#0000ff" stroke-width="2.1" stroke-linejoin="miter" stroke-miterlimit="10"/>
<path d="M1145.95 427.6L1163.55 445.2M1145.95 445.2L1163.55 427.6" fill="none" stroke="#0000ff" stroke-width="2.1"/>
<path d="M1346.36 411.15L1363.96 428.75M1346.36 428.75L1363.96 411.15" fill="none" stroke="#0000ff" stroke-width="2.1"/>
<path d="M1145.95 435.23L1163.55 435.23M1154.75 426.43L1154.75 444.03" fill="none" stroke="#0000ff" stroke-width="2.1"/>
<path d="M1346.36 418.78L1363.96 418.78M1355.16 409.98L1355.16 427.58" fill="none" stroke="#0000ff" stroke-width="2.1"/>
<polygon points="1154.75,425.96 1156.73,432.04 1163.12,432.04 1157.95,435.8 1159.92,441.88 1154.75,438.12 1149.58,441.88 1151.55,435.8 1146.38,432.04 1152.77,432.04" fill="none" stroke="#0000ff" stroke-width="2.1" stroke-linejoin="bevel"/>
<polygon points="1355.16,408.8 1357.13,414.89 1363.53,414.89 1358.35,418.64 1360.33,424.72 1355.16,420.97 1349.98,424.72 1351.96,418.64 1346.79,414.89 1353.18,414.89" fill="none" stroke="#0000ff" stroke-width="2.1" stroke-linejoin="bevel"/>
<rect x="1346.36" y="405.05" width="17.6" height="17.6" fill="none" stroke="#008000" stroke-width="2.1" stroke-linejoin="miter"/>
<circle cx="1355.16" cy="414.08" r="8.8" fill="none" stroke="#008000" stroke-width="2.1"/>
<polygon points="1355.16,405.75 1346.36,423.35 1363.96,423.35" fill="none" stroke="#008000" stroke-width="2.1" stroke-linejoin="miter" stroke-miterlimit="10"/>
<path d="M1346.36 406.22L1363.96 423.82M1346.36 423.82L1363.96 406.22" fill="none" stroke="#008000" stroke-width="2.1"/>
<path d="M1346.36 415.49L1363.96 415.49M1355.16 406.69L1355.16 424.29" fill="none" stroke="#008000" stroke-width="2.1"/>
<polygon points="1355.16,407.16 1357.13,413.24 1363.53,413.24 1358.35,417 1360.33,423.08 1355.16,419.32 1349.98,423.08 1351.96,417 1346.79,413.24 1353.18,413.24" fill="none" stroke="#008000" stroke-width="2.1" stroke-linejoin="bevel"/>
<line x1="813.5" y1="414.08" x2="1496" y2="414.08" stroke="#000" stroke-width="2.1" stroke-dasharray="6.3 3.17"/>
<line x1="813.5" y1="531.56" x2="823.1" y2="531.56" stroke="#000" stroke-width="2.4"/>
<line x1="813.5" y1="414.08" x2="823.1" y2="414.08" stroke="#000" stroke-width="2.4"/>
<line x1="813.5" y1="296.6" x2="823.1" y2="296.6" stroke="#000" stroke-width="2.4"/>
<line x1="813.5" y1="179.12" x2="823.1" y2="179.12" stroke="#000" stroke-width="2.4"/>
<line x1="813.5" y1="61.64" x2="823.1" y2="61.64" stroke="#000" stroke-width="2.4"/>
<line x1="844.52" y1="590" x2="844.52" y2="580.4" stroke="#000" stroke-width="2.4"/>
<text x="844.52" y="616.7" font-size="30" text-anchor="middle">1.0</text>
<line x1="999.64" y1="590" x2="999.64" y2="580.4" stroke="#000" stroke-width="2.4"/>
<text x="999.64" y="616.7" font-size="30" text-anchor="middle">1.5</text>
<line x1="1154.75" y1="590" x2="1154.75" y2="580.4" stroke="#000" stroke-width="2.4"/>
<text x="1154.75" y="616.7" font-size="30" text-anchor="middle">2.0</text>
<line x1="1309.86" y1="590" x2="1309.86" y2="580.4" stroke="#000" stroke-width="2.4"/>
<text x="1309.86" y="616.7" font-size="30" text-anchor="middle">2.5</text>
<line x1="1464.98" y1="590" x2="1464.98" y2="580.4" stroke="#000" stroke-width="2.4"/>
<text x="1464.98" y="616.7" font-size="30" text-anchor="middle">3.0</text>
<rect x="813.5" y="2.6" width="682.5" height="587.4" fill="none" stroke="#000" stroke-width="1.2"/>
<text x="1154.75" y="655.2" font-size="36" text-anchor="middle">d/a</text>
<text x="91" y="543.26" font-size="30" text-anchor="end">−5</text>
<text x="91" y="425.78" font-size="30" text-anchor="end">0</text>
<text x="91" y="308.3" font-size="30" text-anchor="end">5</text>
<text x="91" y="190.82" font-size="30" text-anchor="end">10</text>
<text x="91" y="73.34" font-size="30" text-anchor="end">15</text>
<text transform="translate(30.4 294.5) rotate(-90)" font-size="36" text-anchor="middle">J<tspan font-style="italic" font-size="25.2" dy="5.4">ij</tspan><tspan dy="-5.4" dx="1.5"> (meV)</tspan></text>
<text x="559.5" y="520" font-size="31.4">Bct ordered</text>
<text x="560" y="555.3" font-size="26.3">(c/a = 1.42368)</text>
<text x="117.6" y="549.8" font-size="46.5" font-weight="bold" style="font-family:'Liberation Sans',Arial,sans-serif">(a)</text>
<text x="1277.7" y="519.8" font-size="31.4">Bct random</text>
<text x="1278.4" y="555.2" font-size="26.3">(c/a = 1.41421)</text>
<text x="836" y="550.2" font-size="46.5" font-weight="bold" style="font-family:'Liberation Sans',Arial,sans-serif">(b)</text>
<rect x="1087.7" y="14.5" width="396.1" height="251.9" rx="4.5" ry="4.5" fill="#fff" fill-opacity="0.8" stroke="#d6d6d6" stroke-width="1.3"/>
<g font-size="20.6" font-weight="bold" font-style="italic" style="font-family:'DejaVu Sans Condensed','DejaVu Sans',sans-serif;font-stretch:condensed">
<text x="1096.6" y="41.5" style="font-family:inherit">Fe</text>
<text x="1122.1" y="40.8" style="font-family:inherit">−</text>
<text x="1141.7" y="41.5" style="font-family:inherit">Fe</text>
<text x="1171.2" y="41.5" style="font-family:inherit">Fe</text>
<text x="1198" y="40.8" style="font-family:inherit">−</text>
<text x="1218.2" y="41.5" style="font-family:inherit">Ni</text>
<text x="1245.9" y="41.5" style="font-family:inherit">Ni</text>
<text x="1270.3" y="40.8" style="font-family:inherit">−</text>
<text x="1292.1" y="41.5" style="font-family:inherit">Ni</text>
</g>
<rect x="1121.3" y="60.2" width="17.6" height="17.6" fill="none" stroke="#0000ff" stroke-width="2.1" stroke-linejoin="miter"/>
<rect x="1195.9" y="60.2" width="17.6" height="17.6" fill="none" stroke="#ff0000" stroke-width="2.1" stroke-linejoin="miter"/>
<rect x="1270.4" y="60.2" width="17.6" height="17.6" fill="none" stroke="#008000" stroke-width="2.1" stroke-linejoin="miter"/>
<text x="1330.7" y="77.6" font-size="24.1">P = 0 GPa</text>
<circle cx="1130.1" cy="104.05" r="8.8" fill="none" stroke="#0000ff" stroke-width="2.1"/>
<circle cx="1204.7" cy="104.05" r="8.8" fill="none" stroke="#ff0000" stroke-width="2.1"/>
<circle cx="1279.2" cy="104.05" r="8.8" fill="none" stroke="#008000" stroke-width="2.1"/>
<text x="1330.7" y="112.65" font-size="24.1">P = -5 GPa</text>
<polygon points="1130.1,130.3 1121.3,147.9 1138.9,147.9" fill="none" stroke="#0000ff" stroke-width="2.1" stroke-linejoin="miter" stroke-miterlimit="10"/>
<polygon points="1204.7,130.3 1195.9,147.9 1213.5,147.9" fill="none" stroke="#ff0000" stroke-width="2.1" stroke-linejoin="miter" stroke-miterlimit="10"/>
<polygon points="1279.2,130.3 1270.4,147.9 1288,147.9" fill="none" stroke="#008000" stroke-width="2.1" stroke-linejoin="miter" stroke-miterlimit="10"/>
<text x="1330.7" y="147.7" font-size="24.1">P = -10 GPa</text>
<path d="M1121.3 165.35L1138.9 182.95M1121.3 182.95L1138.9 165.35" fill="none" stroke="#0000ff" stroke-width="2.1"/>
<path d="M1195.9 165.35L1213.5 182.95M1195.9 182.95L1213.5 165.35" fill="none" stroke="#ff0000" stroke-width="2.1"/>
<path d="M1270.4 165.35L1288 182.95M1270.4 182.95L1288 165.35" fill="none" stroke="#008000" stroke-width="2.1"/>
<text x="1330.7" y="182.75" font-size="24.1">P = -15 GPa</text>
<path d="M1121.3 209.2L1138.9 209.2M1130.1 200.4L1130.1 218" fill="none" stroke="#0000ff" stroke-width="2.1"/>
<path d="M1195.9 209.2L1213.5 209.2M1204.7 200.4L1204.7 218" fill="none" stroke="#ff0000" stroke-width="2.1"/>
<path d="M1270.4 209.2L1288 209.2M1279.2 200.4L1279.2 218" fill="none" stroke="#008000" stroke-width="2.1"/>
<text x="1330.7" y="217.8" font-size="24.1">P = -20 GPa</text>
<polygon points="1130.1,235.45 1132.08,241.53 1138.47,241.53 1133.3,245.29 1135.27,251.37 1130.1,247.61 1124.93,251.37 1126.9,245.29 1121.73,241.53 1128.12,241.53" fill="none" stroke="#0000ff" stroke-width="2.1" stroke-linejoin="bevel"/>
<polygon points="1204.7,235.45 1206.68,241.53 1213.07,241.53 1207.9,245.29 1209.87,251.37 1204.7,247.61 1199.53,251.37 1201.5,245.29 1196.33,241.53 1202.72,241.53" fill="none" stroke="#ff0000" stroke-width="2.1" stroke-linejoin="bevel"/>
<polygon points="1279.2,235.45 1281.18,241.53 1287.57,241.53 1282.4,245.29 1284.37,251.37 1279.2,247.61 1274.03,251.37 1276,245.29 1270.83,241.53 1277.22,241.53" fill="none" stroke="#008000" stroke-width="2.1" stroke-linejoin="bevel"/>
<text x="1330.7" y="252.85" font-size="24.1">P = -25 GPa</text>
</svg></body></html>
